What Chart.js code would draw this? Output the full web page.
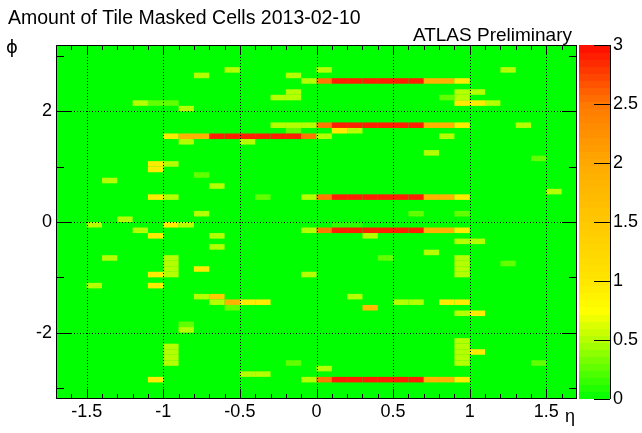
<!DOCTYPE html>
<html>
<head>
<meta charset="utf-8">
<script src="https://cdn.jsdelivr.net/npm/chart.js@4"></script>
<style>
body { margin: 0; background: #fff; }
</style>
</head>
<body>
<canvas id="c" width="642" height="433"></canvas>
<script>
// ==========================
// DATA
// ==========================
const etaTicks = [-1.5, -1, -0.5, 0, 0.5, 1, 1.5];
const phiTicks = [-2, 0, 2];
const zTicks = [0, 0.5, 1, 1.5, 2, 2.5, 3];

// [eta, phi, masked cells] - only non-empty bins, everything else is 0
const cells = [
  [-0.55, 2.75, 0.5], [0.05, 2.75, 0.5], [1.25, 2.75, 0.5],
  [-0.75, 2.65, 0.5], [-0.15, 2.65, 0.5],
  [-0.05, 2.55, 0.5], [0.05, 2.55, 2.5], [0.15, 2.55, 2.9], [0.25, 2.55, 2.9], [0.35, 2.55, 2.9],
  [0.45, 2.55, 2.9], [0.55, 2.55, 2.9], [0.65, 2.55, 2.9], [0.75, 2.55, 1.85], [0.85, 2.55, 1.85], [0.95, 2.55, 0.95],
  [-0.15, 2.35, 0.5], [0.95, 2.35, 0.5], [1.05, 2.35, 0.5],
  [-0.25, 2.25, 0.5], [-0.15, 2.25, 0.5], [0.85, 2.25, 0.27], [0.95, 2.25, 0.5],
  [-1.15, 2.15, 0.5], [-1.05, 2.15, 0.27], [-0.95, 2.15, 0.27], [0.95, 2.15, 0.95], [1.05, 2.15, 0.95], [1.15, 2.15, 0.5],
  [-0.85, 2.05, 0.5],
  [-0.25, 1.75, 0.5], [-0.15, 1.75, 0.5], [-0.05, 1.75, 0.5], [0.05, 1.75, 2.5], [0.15, 1.75, 2.9], [0.25, 1.75, 2.9],
  [0.35, 1.75, 2.9], [0.45, 1.75, 2.9], [0.55, 1.75, 2.9], [0.65, 1.75, 2.9], [0.75, 1.75, 1.85], [0.85, 1.75, 1.85],
  [0.95, 1.75, 0.95], [1.35, 1.75, 0.5],
  [-0.15, 1.65, 0.27], [0.15, 1.65, 0.95], [0.25, 1.65, 0.5],
  [-0.95, 1.55, 0.95], [-0.85, 1.55, 1.85], [-0.75, 1.55, 1.85], [-0.65, 1.55, 2.9], [-0.55, 1.55, 2.9], [-0.45, 1.55, 2.9],
  [-0.35, 1.55, 2.9], [-0.25, 1.55, 2.9], [-0.15, 1.55, 2.9], [-0.05, 1.55, 2.5], [0.05, 1.55, 0.5], [0.85, 1.55, 0.5],
  [-0.85, 1.45, 0.5], [-0.45, 1.45, 0.5],
  [0.75, 1.25, 0.5],
  [1.45, 1.15, 0.27],
  [-1.05, 1.05, 0.95], [-0.95, 1.05, 0.5],
  [-1.05, 0.95, 0.95],
  [-0.75, 0.85, 0.27],
  [-1.35, 0.75, 0.5],
  [-0.65, 0.65, 0.5],
  [1.55, 0.55, 0.5],
  [-1.05, 0.45, 0.95], [-0.95, 0.45, 0.5], [-0.35, 0.45, 0.27], [-0.05, 0.45, 0.5], [0.05, 0.45, 2.5], [0.15, 0.45, 2.9],
  [0.25, 0.45, 2.9], [0.35, 0.45, 2.9], [0.45, 0.45, 2.9], [0.55, 0.45, 2.9], [0.65, 0.45, 2.9], [0.75, 0.45, 1.85],
  [0.85, 0.45, 1.85], [0.95, 0.45, 0.95],
  [-0.75, 0.15, 0.5], [0.65, 0.15, 0.27], [0.95, 0.15, 0.27],
  [-1.25, 0.05, 0.5],
  [-1.45, -0.05, 0.5], [-0.95, -0.05, 0.95], [-0.85, -0.05, 0.5], [0.15, -0.05, 0.12], [0.25, -0.05, 0.12],
  [-1.15, -0.15, 0.5], [-0.05, -0.15, 0.5], [0.05, -0.15, 2.5], [0.15, -0.15, 2.9], [0.25, -0.15, 2.9], [0.35, -0.15, 2.9],
  [0.45, -0.15, 2.9], [0.55, -0.15, 2.9], [0.65, -0.15, 2.9], [0.75, -0.15, 1.85], [0.85, -0.15, 1.85], [0.95, -0.15, 0.95],
  [-1.05, -0.25, 0.95], [-0.65, -0.25, 0.5], [0.35, -0.25, 0.5],
  [0.95, -0.35, 0.5], [1.05, -0.35, 0.5],
  [-0.65, -0.45, 0.5],
  [0.75, -0.55, 0.5],
  [-1.35, -0.65, 0.5], [-0.95, -0.65, 0.5], [0.45, -0.65, 0.27], [0.95, -0.65, 0.5],
  [-0.95, -0.75, 0.5], [0.95, -0.75, 0.5], [1.25, -0.75, 0.27],
  [-0.95, -0.85, 0.5], [-0.75, -0.85, 0.95], [0.95, -0.85, 0.5],
  [-1.05, -0.95, 0.95], [-0.95, -0.95, 0.5], [-0.05, -0.95, 0.5], [0.95, -0.95, 0.5],
  [-1.45, -1.15, 0.5], [-1.05, -1.15, 0.95],
  [-0.75, -1.35, 0.5], [-0.65, -1.35, 1.45], [0.25, -1.35, 0.5],
  [-0.65, -1.45, 0.5], [-0.55, -1.45, 1.85], [-0.45, -1.45, 0.95], [-0.35, -1.45, 0.95], [0.55, -1.45, 0.5],
  [0.65, -1.45, 0.5], [0.85, -1.45, 0.95], [0.95, -1.45, 0.95],
  [-0.55, -1.55, 0.27], [0.35, -1.55, 1.7],
  [0.95, -1.65, 0.5], [1.05, -1.65, 0.95],
  [-0.85, -1.85, 0.27],
  [-0.85, -1.95, 0.5],
  [0.95, -2.15, 0.5],
  [-0.95, -2.25, 0.5], [0.95, -2.25, 0.5],
  [-0.95, -2.35, 0.5], [0.95, -2.35, 0.5], [1.05, -2.35, 0.95],
  [-0.95, -2.45, 0.5], [0.95, -2.45, 0.5],
  [-0.95, -2.55, 0.5], [-0.15, -2.55, 0.27], [0.95, -2.55, 0.5], [1.45, -2.55, 0.27],
  [0.05, -2.65, 0.5],
  [-0.45, -2.75, 0.5], [-0.35, -2.75, 0.5],
  [-1.05, -2.85, 0.95], [-0.05, -2.85, 0.5], [0.05, -2.85, 2.5], [0.15, -2.85, 2.9], [0.25, -2.85, 2.9], [0.35, -2.85, 2.9],
  [0.45, -2.85, 2.9], [0.55, -2.85, 2.9], [0.65, -2.85, 2.9], [0.75, -2.85, 1.85], [0.85, -2.85, 1.85], [0.95, -2.85, 0.95]
];

// ==========================
// BINNING / PALETTE
// ==========================
const ETA_MIN = -1.7, ETA_MAX = 1.7, ETA_W = 0.1;
const PHI_MIN = -3.2, PHI_MAX = 3.2, PHI_W = 0.1;
const FONT = "'Liberation Sans', Arial, Helvetica, sans-serif";

const paletteStops = [
  [0, [0, 255, 0]],
  [0.5, [180, 255, 0]],
  [0.75, [255, 255, 0]],
  [1.0, [255, 230, 0]],
  [1.5, [255, 200, 0]],
  [2.0, [255, 170, 0]],
  [2.5, [255, 120, 0]],
  [3.0, [255, 10, 0]]
];

function paletteColor(v) {
  v = Math.max(0, Math.min(3, v));
  for (let i = 1; i < paletteStops.length; i++) {
    const [v1, c1] = paletteStops[i];
    const [v0, c0] = paletteStops[i - 1];
    if (v <= v1) {
      const t = (v - v0) / (v1 - v0);
      const c = c0.map((a, k) => Math.round(a + (c1[k] - a) * t));
      return "rgb(" + c.join(",") + ")";
    }
  }
  return "rgb(255,10,0)";
}

// no extra room for half-labels at the axis ends
function noPad(s) {
  s.paddingTop = 0;
  s.paddingBottom = 0;
  s.paddingLeft = 0;
  s.paddingRight = 0;
}

// ==========================
// HISTOGRAM PLUGIN
// ==========================
const histPlugin = {
  id: "hist",
  beforeDatasetsDraw(chart) {
    const { ctx, chartArea: a, scales: { x, y, z } } = chart;
    ctx.save();

    // empty bins
    ctx.fillStyle = paletteColor(0);
    ctx.fillRect(a.left, a.top, a.right - a.left, a.bottom - a.top);

    // filled bins
    cells.forEach(([eta, phi, v]) => {
      const bx = Math.floor((eta - ETA_MIN) / ETA_W);
      const by = Math.floor((phi - PHI_MIN) / PHI_W);
      const x0 = x.getPixelForValue(ETA_MIN + bx * ETA_W);
      const x1 = x.getPixelForValue(ETA_MIN + (bx + 1) * ETA_W);
      const y0 = y.getPixelForValue(PHI_MIN + (by + 1) * PHI_W);
      const y1 = y.getPixelForValue(PHI_MIN + by * PHI_W);
      ctx.fillStyle = paletteColor(v);
      ctx.fillRect(x0, y0, x1 - x0, y1 - y0);
    });

    // dotted grid
    ctx.strokeStyle = "#000";
    ctx.lineWidth = 1;
    ctx.setLineDash([1, 2]);
    ctx.beginPath();
    etaTicks.forEach(t => {
      const px = Math.round(x.getPixelForValue(t)) + 0.5;
      ctx.moveTo(px, a.top);
      ctx.lineTo(px, a.bottom);
    });
    phiTicks.forEach(t => {
      const py = Math.round(y.getPixelForValue(t)) + 0.5;
      ctx.moveTo(a.left, py);
      ctx.lineTo(a.right, py);
    });
    ctx.stroke();
    ctx.setLineDash([]);

    // ticks (inside the frame, ROOT style)
    ctx.beginPath();
    for (let t = -16; t <= 16; t++) {
      const v = t / 10;
      const major = t % 5 === 0;
      const len = major ? 10 : 5;
      const px = Math.round(x.getPixelForValue(v)) + 0.5;
      ctx.moveTo(px, a.bottom);
      ctx.lineTo(px, a.bottom - len);
      ctx.moveTo(px, a.top);
      ctx.lineTo(px, a.top + len);
    }
    for (let t = -3; t <= 3; t++) {
      const major = t % 2 === 0;
      const len = major ? 15 : 8;
      const py = Math.round(y.getPixelForValue(t)) + 0.5;
      ctx.moveTo(a.left, py);
      ctx.lineTo(a.left + len, py);
      ctx.moveTo(a.right, py);
      ctx.lineTo(a.right - len, py);
    }
    ctx.stroke();

    // frame
    ctx.strokeRect(Math.round(a.left) + 0.5, Math.round(a.top) + 0.5,
      Math.round(a.right - a.left) - 1, Math.round(a.bottom - a.top) - 1);

    // palette
    const cbL = z.left + 2, cbR = z.left + 33;
    const nLev = 50;
    for (let i = 0; i < nLev; i++) {
      const v0 = 3 * i / nLev, v1 = 3 * (i + 1) / nLev;
      const p0 = z.getPixelForValue(v0), p1 = z.getPixelForValue(v1);
      ctx.fillStyle = paletteColor((v0 + v1) / 2);
      ctx.fillRect(cbL, Math.floor(p1), cbR - cbL, Math.ceil(p0) - Math.floor(p1));
    }
    ctx.beginPath();
    zTicks.forEach(t => {
      const py = Math.round(z.getPixelForValue(t)) + 0.5;
      ctx.moveTo(cbR, py);
      ctx.lineTo(cbR - 16, py);
    });
    ctx.moveTo(cbR + 0.5, z.top);
    ctx.lineTo(cbR + 0.5, z.bottom);
    ctx.stroke();

    ctx.restore();
  },
  afterDraw(chart) {
    const { ctx, chartArea: a } = chart;
    ctx.save();
    ctx.fillStyle = "#000";
    ctx.textBaseline = "alphabetic";
    ctx.font = "19.5px " + FONT;
    ctx.textAlign = "left";
    ctx.fillText("Amount of Tile Masked Cells 2013-02-10", 8, 24);
    ctx.font = "19px " + FONT;
    ctx.textAlign = "right";
    ctx.fillText("ATLAS Preliminary", a.right - 5, 41);
    ctx.textAlign = "left";
    ctx.font = "18px 'DejaVu Sans', " + FONT;
    ctx.fillText("\u03d5", 6, 53);
    ctx.font = "18px " + FONT;
    ctx.fillText("\u03b7", a.right - 12, 422);
    ctx.restore();
  }
};

// ==========================
// CHART
// ==========================
new Chart(document.getElementById("c"), {
  type: "scatter",
  data: {
    datasets: [{
      data: cells.map(c => ({ x: c[0], y: c[1] })),
      pointRadius: 0,
      yAxisID: "y"
    }]
  },
  options: {
    responsive: false,
    animation: false,
    events: [],
    layout: { padding: { top: 45, left: 0, right: 0, bottom: 0 } },
    plugins: { legend: { display: false }, tooltip: { enabled: false } },
    scales: {
      x: {
        type: "linear",
        min: ETA_MIN,
        max: ETA_MAX,
        grid: { display: false, drawTicks: false },
        border: { display: false },
        afterBuildTicks: s => { s.ticks = etaTicks.map(v => ({ value: v })); },
        afterFit: s => { s.height = 34; noPad(s); },
        ticks: {
          color: "#000",
          padding: 2,
          maxRotation: 0,
          autoSkip: false,
          font: { family: FONT, size: 18 },
          callback: v => String(v)
        }
      },
      y: {
        type: "linear",
        position: "left",
        min: PHI_MIN,
        max: PHI_MAX,
        grid: { display: false, drawTicks: false },
        border: { display: false },
        afterBuildTicks: s => { s.ticks = phiTicks.map(v => ({ value: v })); },
        afterFit: s => { s.width = 56; noPad(s); },
        ticks: {
          color: "#000",
          padding: 4,
          font: { family: FONT, size: 18 },
          callback: v => String(v)
        }
      },
      z: {
        type: "linear",
        position: "right",
        min: 0,
        max: 3,
        grid: { display: false, drawTicks: false },
        border: { display: false },
        afterBuildTicks: s => { s.ticks = zTicks.map(v => ({ value: v })); },
        afterFit: s => { s.width = 65; noPad(s); },
        ticks: {
          color: "#000",
          padding: 36,
          font: { family: FONT, size: 18 },
          callback: v => String(v)
        }
      }
    }
  },
  plugins: [histPlugin]
});
</script>
</body>
</html>
